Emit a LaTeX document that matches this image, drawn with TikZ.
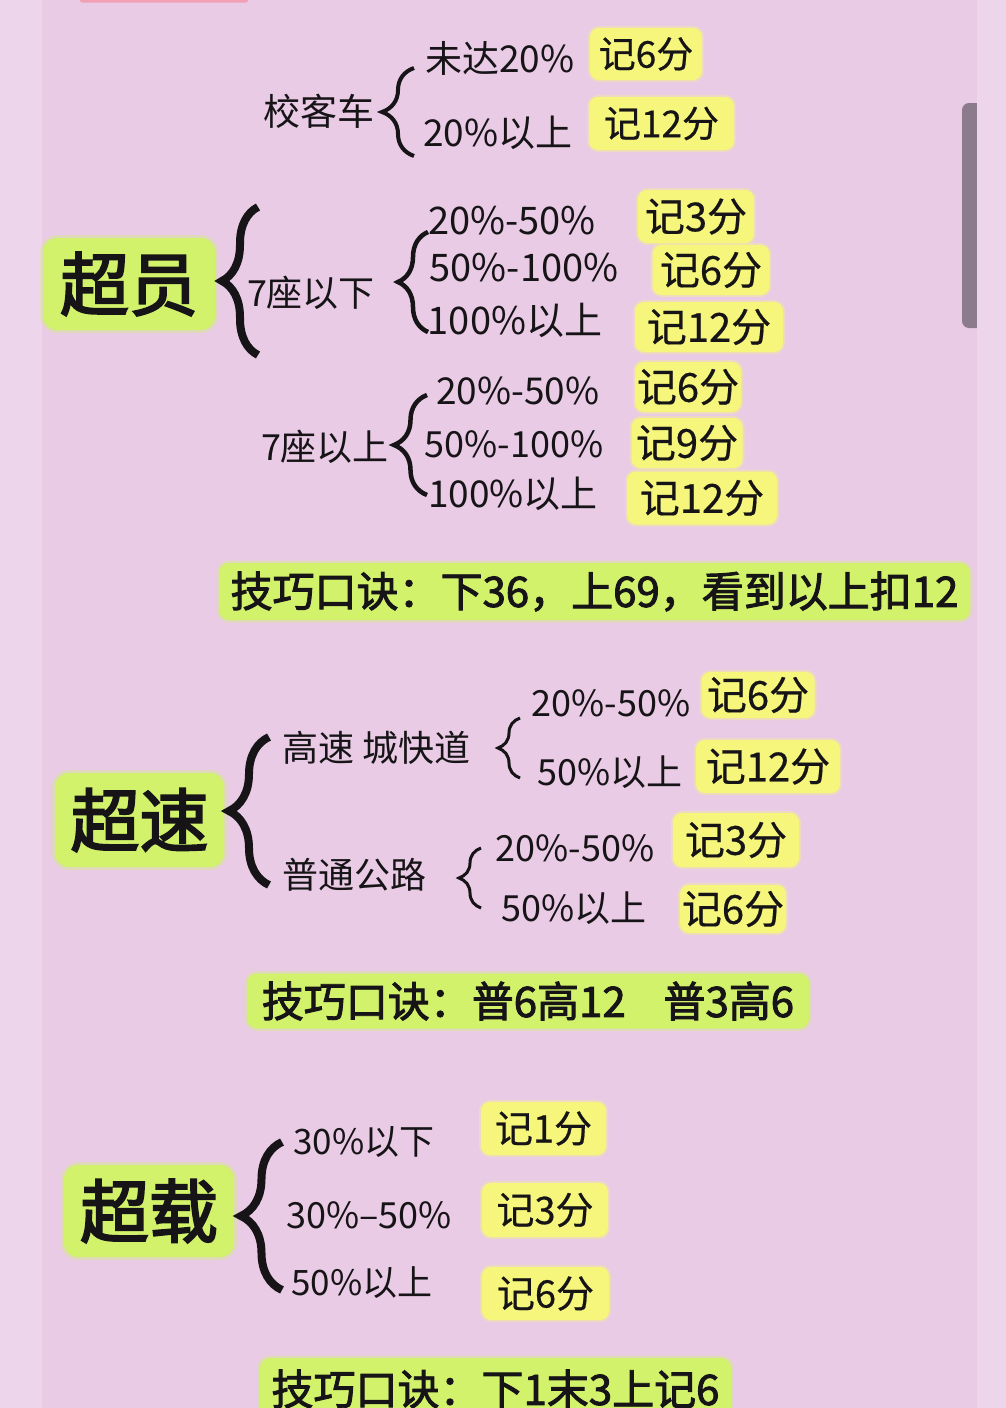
\documentclass[tikz,border=0pt]{standalone}
\usepackage{fontspec}
\setmainfont{Noto Sans CJK SC}
\newfontfamily\cjkfb[FakeBold=2.2]{Noto Sans CJK SC}
\newfontfamily\cjkfh[FakeBold=2.8]{Noto Sans CJK SC}
\newfontfamily\cjkfm[FakeBold=0.5]{Noto Sans CJK SC}
\usetikzlibrary{decorations.pathreplacing}
\definecolor{bgc}{HTML}{E9CBE5}
\definecolor{bgl}{HTML}{EDD6EB}
\definecolor{inkc}{HTML}{161416}
\definecolor{grnc}{HTML}{D2F26C}
\definecolor{yelc}{HTML}{F6F67C}
\definecolor{barc}{HTML}{8B7B8D}
\definecolor{topc}{HTML}{F2A0B5}
\begin{document}
\begin{tikzpicture}[x=1pt,y=-1pt,
  fs/.style={font=\cjkfm\fontsize{#1}{#1}\selectfont},
  lbl/.style={inner sep=0pt, text=inkc, font=\fontsize{#1}{#1}\selectfont},
  yel/.style 2 args={fill=yelc, rounded corners=9pt, inner sep=0pt,
     minimum width=#1pt, minimum height=#2pt, text=inkc,
     font=\cjkfm\fontsize{40}{40}\selectfont,
     preaction={draw=yelc, line width=4pt, draw opacity=0.35}},
  grn/.style 2 args={fill=grnc, rounded corners=14pt, inner sep=0pt,
     minimum width=#1pt, minimum height=#2pt, text=inkc,
     font=\cjkfh\fontsize{69}{69}\selectfont,
     preaction={draw=grnc, line width=6pt, draw opacity=0.35}},
  ban/.style 2 args={fill=grnc, rounded corners=10pt, inner sep=0pt,
     minimum width=#1pt, minimum height=#2pt, text=inkc,
     font=\cjkfb\fontsize{42}{42}\selectfont,
     preaction={draw=grnc, line width=5pt, draw opacity=0.35}},
  brc/.style 2 args={draw=inkc, decorate,
     decoration={brace, amplitude=#1pt}, line width=#2pt}
]
\useasboundingbox (0,0) rectangle (1006,1408);
\clip (0,0) rectangle (1006,1408);
% background
\fill[bgc] (0,0) rectangle (1006,1408);
\fill[bgl] (0,0) rectangle (42,1408);
\fill[barc, rounded corners=7pt] (962,103) rectangle (990,328);
\fill[bgl] (977,0) rectangle (1006,1408);
\fill[topc, rounded corners=2pt] (80,-6) rectangle (248,2.5);

% ---------- 校客车 ----------
\node[lbl=37] (xkc) at (319,111) {校客车};
\coordinate (b1t) at (414,68);
\coordinate (b1b) at (414,156);
\draw[brc={32}{4}] (b1b) -- (b1t);
\node[lbl=37] (xa) at (500,58) {未达20\%};
\node[lbl=37] (xb) at (498,133) {20\%以上};
\node[yel={112}{52}, fs=37] (xs1) at (646,54) {记6分};
\node[yel={145}{53}, fs=37] (xs2) at (661.5,123.5) {记12分};

% ---------- 超员 ----------
\node[grn={172}{92}] (cy) at (129,284) {超员};
\coordinate (b2t) at (258,207);
\coordinate (b2b) at (258,355);
\draw[brc={36}{8}] (b2b) -- (b2t);
\node[lbl=36] (q7x) at (311,293) {7座以下};
\coordinate (b3t) at (428,232);
\coordinate (b3b) at (428,332);
\draw[brc={30}{4.5}] (b3b) -- (b3t);
\node[lbl=38] (qa1) at (512,221) {20\%-50\%};
\node[lbl=38] (qa2) at (524,268) {50\%-100\%};
\node[lbl=38] (qa3) at (515,320) {100\%以上};
\node[yel={116}{53}] (qs1) at (696,216.5) {记3分};
\node[yel={117}{50}] (qs2) at (711,270) {记6分};
\node[yel={148}{50}] (qs3) at (709,327) {记12分};

\node[lbl=36] (q7s) at (325,447) {7座以上};
\coordinate (b4t) at (427,395);
\coordinate (b4b) at (427,495);
\draw[brc={33}{4.5}] (b4b) -- (b4t);
\node[lbl=37] (qb1) at (518,391) {20\%-50\%};
\node[lbl=36] (qb2) at (514,444) {50\%-100\%};
\node[lbl=37] (qb3) at (513,494) {100\%以上};
\node[yel={106}{50}] (qt1) at (688,387) {记6分};
\node[yel={111}{50}] (qt2) at (687,443) {记9分};
\node[yel={150}{53}] (qt3) at (702,498) {记12分};

\node[ban={751}{57}] (k1) at (594.5,591.5) {技巧口诀：下36，上69，看到以上扣12};

% ---------- 超速 ----------
\node[grn={169}{94}] (cs) at (139.5,820) {超速};
\coordinate (b5t) at (269,737);
\coordinate (b5b) at (269,885);
\draw[brc={40}{8}] (b5b) -- (b5t);
\node[lbl=36] (gs) at (377,748) {高速 城快道};
\coordinate (b6t) at (520,718);
\coordinate (b6b) at (520,778);
\draw[brc={22}{3}] (b6b) -- (b6t);
\node[lbl=36] (ga1) at (611,703) {20\%-50\%};
\node[lbl=36] (ga2) at (610,772) {50\%以上};
\node[yel={113}{46}] (gs1) at (758,695) {记6分};
\node[yel={144}{53}] (gs2) at (768,766.5) {记12分};

\node[lbl=36] (pt) at (354,875) {普通公路};
\coordinate (b7t) at (481,848);
\coordinate (b7b) at (481,908);
\draw[brc={22}{3}] (b7b) -- (b7t);
\node[lbl=36] (pa1) at (575,848) {20\%-50\%};
\node[lbl=36] (pa2) at (574,908) {50\%以上};
\node[yel={126}{54}] (ps1) at (736,840) {记3分};
\node[yel={106}{48}] (ps2) at (733,909) {记6分};

\node[ban={562}{55}] (k2) at (528,1001) {技巧口诀：普6高12\hspace{0.9em}普3高6};

% ---------- 超载 ----------
\node[grn={170}{92}] (cz) at (149,1211) {超载};
\coordinate (b8t) at (282,1142);
\coordinate (b8b) at (282,1290);
\draw[brc={41}{8}] (b8b) -- (b8t);
\node[lbl=35] (za1) at (364,1142) {30\%以下};
\node[lbl=36] (za2) at (369,1215) {30\%–50\%};
\node[lbl=35] (za3) at (362,1283) {50\%以上};
\node[yel={125}{53}, fs=38] (zs1) at (543.5,1128.5) {记1分};
\node[yel={126}{54}, fs=38] (zs2) at (545,1210) {记3分};
\node[yel={127}{53}, fs=38] (zs3) at (545.5,1293.5) {记6分};

\node[ban={471}{62}] (k3) at (495.5,1389) {技巧口诀：下1末3上记6};
\end{tikzpicture}
\end{document}
